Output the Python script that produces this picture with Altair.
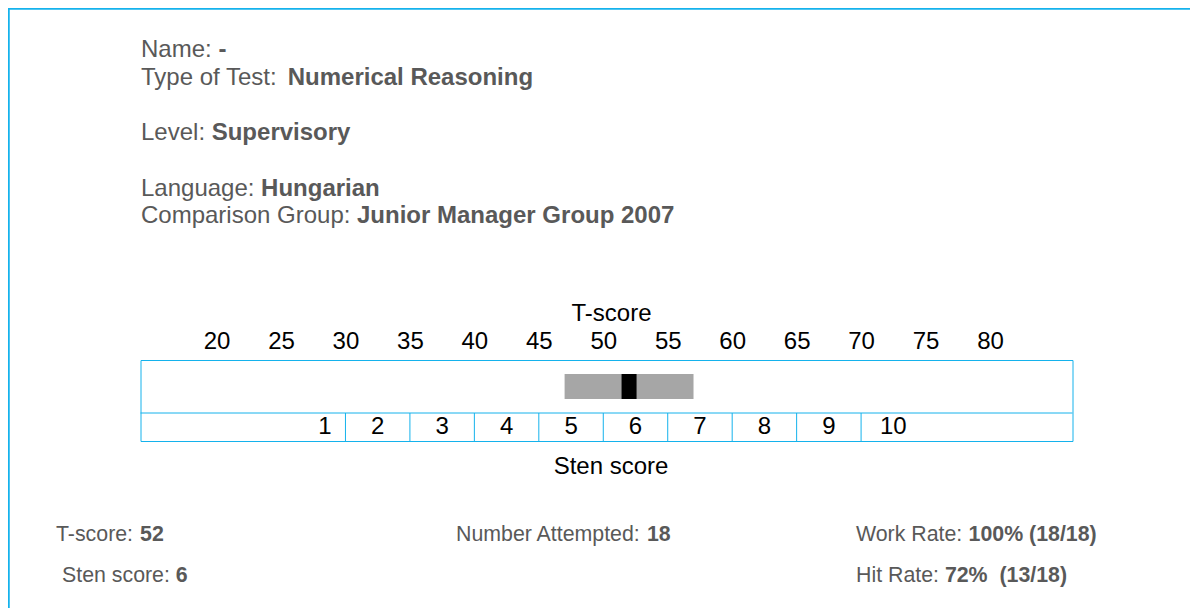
import altair as alt
import pandas as pd

# ---------------- data ----------------
t_ticks = [20, 25, 30, 35, 40, 45, 50, 55, 60, 65, 70, 75, 80]
sten_labels = ["1", "2", "3", "4", "5", "6", "7", "8", "9", "10"]
sten_label_pos = [28.4, 32.5, 37.5, 42.5, 47.5, 52.5, 57.5, 62.5, 67.5, 72.5]
sten_bounds = [30, 35, 40, 45, 50, 55, 60, 65, 70]
t_score = 52
band_low = 47
band_high = 57

header_labels = ["Name: ", "Type of Test: ", "Level: ", "Language: ", "Comparison Group: "]
header_values = ["-", "Numerical Reasoning", "Supervisory", "Hungarian", "Junior Manager Group 2007"]
footer_labels = ["T-score: ", "Sten score: ", "Number Attempted: ", "Work Rate: ", "Hit Rate: "]
footer_values = ["52", "6", "18", "100% (18/18)", "72%\u00a0 (13/18)"]

# ---------------- layout (page pixels) ----------------
X0, Y0 = 140.5, 360.0          # plot-area origin on the page
W, H = 932, 81                  # plot area = score box
PAD_L, PAD_T = X0 - 8, Y0 - 8
PAD_R = 1182 - PAD_L - W
PAD_B = 600 - PAD_T - H

header_lx = [141, 141, 141, 141, 141]
header_vx = [218.4, 287.7, 211.7, 261.1, 357.0]
header_y = [57, 85, 140, 196, 223]
footer_lx = [56, 62, 456, 856, 856]
footer_vx = [140.1, 175.8, 646.9, 968.6, 944.9]
footer_y = [541, 582, 541, 541, 582]

FONT = "Liberation Sans"
BLUE = "#14b2ec"
GREY_TXT = "#595959"

xscale = alt.Scale(domain=[14.1, 86.4], range=[0, W], nice=False, zero=False)

# ---------------- frames ----------------
band_df = pd.DataFrame({"lo": [band_low], "hi": [band_high], "t": [t_score]})
sten_df = pd.DataFrame({"label": sten_labels, "pos": sten_label_pos})
bounds_df = pd.DataFrame({"b": sten_bounds})

hdr = pd.DataFrame({
    "label": header_labels, "value": header_values,
    "lx": [v - X0 for v in header_lx], "vx": [v - X0 for v in header_vx],
    "y": [v - Y0 for v in header_y],
})
ftr = pd.DataFrame({
    "label": footer_labels, "value": footer_values,
    "lx": [v - X0 for v in footer_lx], "vx": [v - X0 for v in footer_vx],
    "y": [v - Y0 for v in footer_y],
})

# ---------------- layers ----------------
band = alt.Chart(band_df).mark_rect(color="#a6a6a6").encode(
    x=alt.X("lo:Q", scale=xscale,
            axis=alt.Axis(orient="top", values=t_ticks, ticks=False, domain=False, grid=False,
                          labelFontSize=24, labelFont=FONT, labelColor="#000000",
                          labelPadding=7, labelFlush=False, labelOverlap=False,
                          title="T-score", titleFont=FONT, titleFontSize=24,
                          titleFontWeight="normal", titleColor="#000000",
                          titleX=611 - X0, titleY=320 - Y0, titleBaseline="alphabetic",
                          titleAlign="center", titleAngle=0)),
    x2="hi:Q",
    y=alt.value(374 - Y0),
    y2=alt.value(399 - Y0),
)

marker = alt.Chart(band_df).mark_rule(color="#000000", strokeWidth=15, strokeCap="butt").encode(
    x=alt.X("t:Q", scale=xscale, axis=None),
    y=alt.value(374 - Y0),
    y2=alt.value(399 - Y0),
)

midline = alt.Chart(band_df).mark_rule(color=BLUE, strokeWidth=1).encode(
    x=alt.value(0), x2=alt.value(W), y=alt.value(413 - Y0),
)

dividers = alt.Chart(bounds_df).mark_rule(color=BLUE, strokeWidth=1).encode(
    x=alt.X("b:Q", scale=xscale, axis=None),
    y=alt.value(413 - Y0),
    y2=alt.value(H),
)

sten_text = alt.Chart(sten_df).mark_text(
    font=FONT, fontSize=24, color="#000000", align="center", baseline="alphabetic"
).encode(
    x=alt.X("pos:Q", scale=xscale, axis=None),
    y=alt.value(434 - Y0),
    text="label:N",
)

sten_title = alt.Chart(band_df).mark_text(
    font=FONT, fontSize=24, color="#000000", align="center", baseline="alphabetic",
    text="Sten score",
).encode(x=alt.value(611 - X0), y=alt.value(473.5 - Y0))

def text_layers(df, size):
    reg = alt.Chart(df).mark_text(
        font=FONT, fontSize=size, color=GREY_TXT, align="left", baseline="alphabetic"
    ).encode(
        x=alt.X("lx:Q", scale=None, axis=None),
        y=alt.Y("y:Q", scale=None, axis=None),
        text="label:N",
    )
    bold = alt.Chart(df).mark_text(
        font=FONT, fontSize=size, color=GREY_TXT, align="left", baseline="alphabetic",
        fontWeight="bold",
    ).encode(
        x=alt.X("vx:Q", scale=None, axis=None),
        y=alt.Y("y:Q", scale=None, axis=None),
        text="value:N",
    )
    return [reg, bold]

border_top = alt.Chart(band_df).mark_rule(color=BLUE, strokeWidth=2.5).encode(
    x=alt.value(-PAD_L), x2=alt.value(W + PAD_R), y=alt.value(0.5 - PAD_T),
)
border_left = alt.Chart(band_df).mark_rule(color=BLUE, strokeWidth=2.5).encode(
    x=alt.value(0.5 - PAD_L), y=alt.value(-PAD_T), y2=alt.value(H + PAD_B),
)

layers = [band, marker, midline, dividers, sten_text, sten_title, border_top, border_left]
layers += text_layers(hdr, 24)
layers += text_layers(ftr, 21.33)

chart = alt.layer(*layers).resolve_scale(x="independent", y="independent").properties(
    width=W, height=H,
    padding={"left": PAD_L, "top": PAD_T, "right": PAD_R, "bottom": PAD_B},
    autosize=alt.AutoSizeParams(type="none"),
    background="#ffffff",
).configure_view(stroke=BLUE, strokeWidth=1)

chart.save("out.html", embed_options={"renderer": "svg", "actions": False})
